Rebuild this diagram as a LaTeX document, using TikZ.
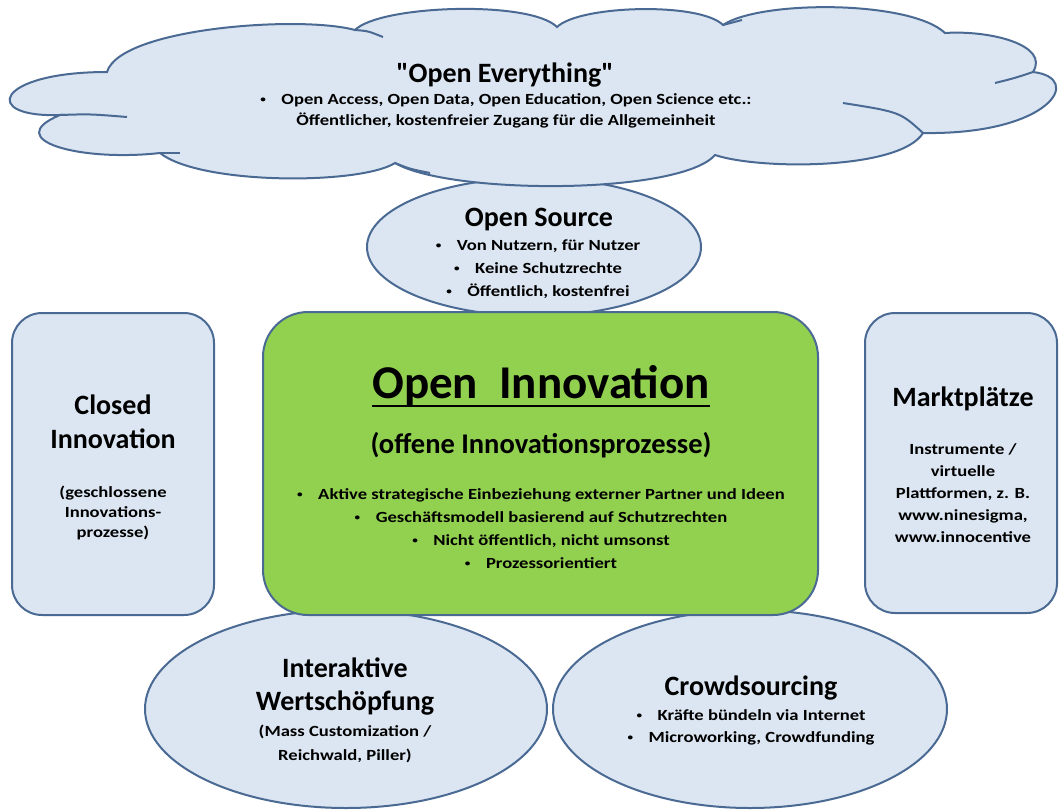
\documentclass[tikz,border=0pt]{standalone}
\usepackage{fontspec}
\setmainfont{Carlito}
\newfontfamily\widefont[FakeStretch=1.2]{Carlito}
\newfontfamily\quotefont[Ligatures=TeXOff]{Carlito}
\usetikzlibrary{shapes.geometric}
\definecolor{fillblue}{HTML}{DCE6F2}
\definecolor{edgeblue}{HTML}{4A6A94}
\definecolor{oigreen}{HTML}{92D050}
\newcommand{\bul}{\raisebox{0.12em}{\scalebox{0.6}{\textbullet}}\hspace{1em}}
\begin{document}
\begin{tikzpicture}[x=1pt,y=-1pt,
  shp/.style={fill=fillblue, draw=edgeblue, line width=2pt},
  ell/.style={shp, ellipse, inner sep=0pt},
  rbox/.style={shp, rectangle, rounded corners=30pt, inner sep=0pt},
  txt/.style={anchor=base, inner sep=0pt, text=black},
  bigtitle/.style={txt, font=\fontsize{47}{50}\selectfont\bfseries},
  title/.style={txt, font=\fontsize{28}{30}\selectfont\bfseries},
  sub/.style={txt, font=\fontsize{28.5}{30}\selectfont\bfseries},
  small/.style={txt, font=\widefont\bfseries\fontsize{15.5}{18}\selectfont},
  inner/.style={draw=edgeblue, line width=2pt}
]
\useasboundingbox[fill=white] (0,0) rectangle (1060,809);

% Open Source ellipse (behind cloud and green box)
\node[ell, minimum width=334pt, minimum height=138pt] (os) at (534,247) {};

% cloud
\path[shp] (107,72) .. controls (120,28) and (300,15) .. (355,30)
 .. controls (380,5) and (530,0) .. (557,27)
 .. controls (580,5) and (700,2) .. (723,25)
 .. controls (760,0) and (910,0) .. (945,33)
 .. controls (990,30) and (1050,45) .. (1033,72)
 .. controls (1085,78) and (1050,135) .. (923,133)
 .. controls (900,170) and (760,170) .. (715,155)
 .. controls (680,195) and (450,195) .. (395,163)
 .. controls (360,185) and (200,185) .. (160,153)
 .. controls (80,162) and (0,140) .. (60,115)
 .. controls (-20,118) and (-5,72) .. (107,72) -- cycle;
\coordinate (c2) at (355,30);  \coordinate (c2e) at (383,37);
\coordinate (c11) at (60,115); \coordinate (c11e) at (127,117);
\coordinate (c10) at (160,153); \coordinate (c10e) at (180,153);
\coordinate (c7) at (923,133); \coordinate (c7e) at (843,103);
\coordinate (c6) at (1033,72); \coordinate (c6e) at (995,83);
\coordinate (c4) at (723,25); \coordinate (c4e) at (742,20);
\coordinate (c9) at (395,163); \coordinate (c9e) at (430,173);
\draw[inner] (c2) .. controls (368,31) .. (c2e);
\draw[inner] (c11) .. controls (90,114) .. (c11e);
\draw[inner] (c10) -- (c10e);
\draw[inner] (c7) .. controls (900,112) .. (c7e);
\draw[inner] (c6) .. controls (1015,78) .. (c6e);
\draw[inner] (c4) -- (c4e);
\draw[inner] (c9) .. controls (410,169) .. (c9e);

% bottom ellipses
\node[ell, minimum width=402pt, minimum height=198pt] (iw) at (346,709) {};
\node[ell, minimum width=394pt, minimum height=198pt] (cs) at (750,709) {};

% side boxes
\node[rbox, minimum width=202pt, minimum height=302pt] (ci) at (113,464) {};
\node[rbox, minimum width=192pt, minimum height=300pt] (mp) at (961,463) {};

% green box
\node[shp, fill=oigreen, rectangle, rounded corners=45pt, inner sep=0pt,
      minimum width=555pt, minimum height=303pt] (oi) at (540.5,463.5) {};

% cloud text
\node[title, font=\quotefont\fontsize{28}{30}\selectfont\bfseries] (oe) at (505,82) {"Open Everything"};
\node[small] (oe1) at (506,104) {\bul Open Access, Open Data, Open Education, Open Science etc.:};
\node[small] (oe2) at (506,125) {Öffentlicher, kostenfreier Zugang für die Allgemeinheit};

% open source text
\node[title] (ost) at (539,226) {Open Source};
\node[small] (os1) at (538,250) {\bul Von Nutzern, für Nutzer};
\node[small] (os2) at (538,273) {\bul Keine Schutzrechte};
\node[small] (os3) at (538,296) {\bul Öffentlich, kostenfrei};

% open innovation text
\node[bigtitle] (oit) at (541,398) {Open\hspace{0.45em}Innovation};
\draw[line width=2.8pt] ([yshift=-8pt]oit.base west) -- ([yshift=-8pt]oit.base east);
\node[sub] (ois) at (541,453) {(offene Innovationsprozesse)};
\node[small] (oi1) at (541,499) {\bul Aktive strategische Einbeziehung externer Partner und Ideen};
\node[small] (oi2) at (541,522) {\bul Geschäftsmodell basierend auf Schutzrechten};
\node[small] (oi3) at (541,545) {\bul Nicht öffentlich, nicht umsonst};
\node[small] (oi4) at (541,568) {\bul Prozessorientiert};

% closed innovation text
\node[title] (cit1) at (113,414) {Closed};
\node[title] (cit2) at (113,448) {Innovation};
\node[small] (ci1) at (113,497) {(geschlossene};
\node[small] (ci2) at (113,517) {Innovations-};
\node[small] (ci3) at (113,537) {prozesse)};

% marktplaetze text
\node[title] (mpt) at (963,406) {Marktplätze};
\node[small] (mp1) at (963,454) {Instrumente /};
\node[small] (mp2) at (963,476) {virtuelle};
\node[small] (mp3) at (963,498) {Plattformen, z. B.};
\node[small] (mp4) at (963,520) {www.ninesigma,};
\node[small] (mp5) at (963,542) {www.innocentive};

% interaktive text
\node[title] (iwt1) at (345,677) {Interaktive};
\node[title] (iwt2) at (345,710) {Wertschöpfung};
\node[small] (iw1) at (345,736) {(Mass Customization /};
\node[small] (iw2) at (345,760) {Reichwald, Piller)};

% crowdsourcing text
\node[title] (cst) at (751,695) {Crowdsourcing};
\node[small] (cs1) at (751,720) {\bul Kräfte bündeln via Internet};
\node[small] (cs2) at (751,742) {\bul Microworking, Crowdfunding};
\end{tikzpicture}
\end{document}
